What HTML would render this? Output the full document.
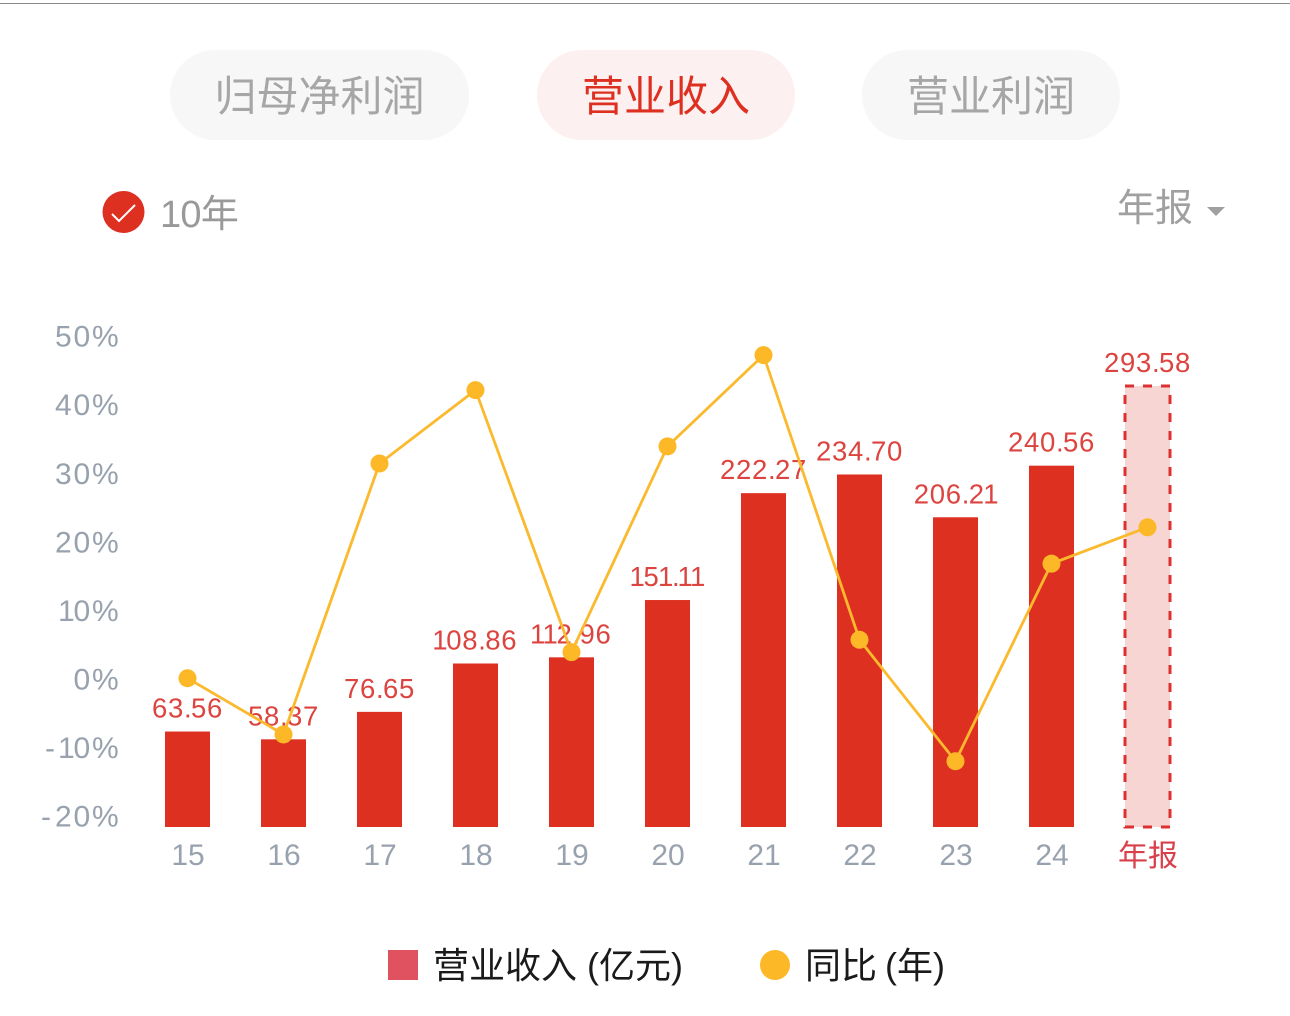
<!DOCTYPE html>
<html lang="zh">
<head>
<meta charset="utf-8">
<title>营业收入</title>
<style>
html,body{margin:0;padding:0;background:#fff;}
#page{position:relative;width:1290px;height:1016px;overflow:hidden;background:#fff;font-family:"Liberation Sans","Noto Sans CJK SC",sans-serif;}
#rule{position:absolute;left:0;top:3px;width:1290px;height:1px;background:#8a8a8a;}
.tab{position:absolute;top:50px;height:90px;border-radius:45px;background:#f7f7f7;color:#a6a6a6;font-size:42px;line-height:93px;text-align:center;font-weight:400;}
.tab.on{background:#fdf0f0;color:#dd3020;}
svg{position:absolute;left:0;top:0;}
text{font-family:"Liberation Sans","Noto Sans CJK SC",sans-serif;}
</style>
</head>
<body>
<div id="page">
<div id="rule"></div>
<div class="tab" style="left:170px;width:299px">归母净利润</div>
<div class="tab on" style="left:537px;width:258px">营业收入</div>
<div class="tab" style="left:862px;width:258px">营业利润</div>

<svg id="chart" width="1290" height="1016" viewBox="0 0 1290 1016">
  <g>
    <ellipse cx="123.500" cy="212" rx="21" ry="21" fill="#dd3020"/>
    <path d="M112 214 L119 221 L135 205" fill="none" stroke="#fff" stroke-width="2"/>
    <text x="160" y="227" font-size="38" fill="#999" letter-spacing="-0.700">10年</text>
  </g>
  <g>
    <text x="1117" y="221" font-size="38" fill="#a0a0a0">年报</text>
    <path d="M1207 207 L1225 207 L1216 216 Z" fill="#a0a0a0"/>
  </g>
  <g id="yAxis"></g>
  <g id="bars"></g>
  <g id="barLabels"></g>
  <g id="line"></g>
  <g id="xAxis"></g>
  <g>
    <rect x="388" y="950" width="30" height="30" fill="#e0525f"/>
    <text x="433" y="978" font-size="36" fill="#1a1a1a">营业收入 (亿元)</text>
    <ellipse cx="775" cy="965" rx="15" ry="15" fill="#fdb827"/>
    <text x="805" y="978" font-size="36" fill="#1a1a1a" word-spacing="-2">同比 (年)</text>
  </g>
</svg>
</div>
<script>
const categories = ['15','16','17','18','19','20','21','22','23','24','年报'];
const revenue = [63.56,58.37,76.65,108.86,112.96,151.11,222.27,234.70,206.21,240.56,293.58];
const revenueLabels = ['63.56','58.37','76.65','108.86','112.96','151.11','222.27','234.70','206.21','240.56','293.58'];
const yoy = [0,-8.2,31.3,42.0,3.8,33.8,47.1,5.6,-12.1,16.7,22.0];
const yTicks = [50,40,30,20,10,0,-10,-20];

const NS = 'http://www.w3.org/2000/svg';
const xScale = i => 187.5 + 96 * i;
const barY = v => 827 - v * 1.502;
const lineY = v => 678.2 - v * 6.86;
const tickY = v => 680 - v * 6.857;

function mk(parent, tag, attrs, txt) {
  const el = document.createElementNS(NS, tag);
  for (const k in attrs) el.setAttribute(k, attrs[k]);
  if (txt !== undefined) el.textContent = txt;
  parent.appendChild(el);
  return el;
}

/* Per-glyph x list: the original font has a narrow "1" and wider digits. */
function glyphX(str, start, cell, nudge) {
  let x = start;
  const out = [];
  for (const ch of str) {
    out.push((x + (nudge[ch] || 0)).toFixed(1));
    x += cell(ch);
  }
  return out.join(' ');
}
const labelCell = ch => ch === '.' ? 7 : ch === '1' ? 12.5 : 16;
const labelWidth = s => [...s].reduce((a, c) => a + labelCell(c), 0);
const tickCell = ch => ch === '%' ? 27 : ch === '-' ? 16 : ch === '1' ? 14.5 : 18.5;
const tickWidth = s => [...s].reduce((a, c) => a + tickCell(c), 0);

const yAxis = document.getElementById('yAxis');
yTicks.forEach(t => {
  const s = t + '%';
  const el = mk(yAxis, 'text', {x:glyphX(s, 119 - tickWidth(s), tickCell, {'1':-1, '-':2}), y:tickY(t)+9.500, 'font-size':30, fill:'#98a2ae'}, s);
  
  
});

const bars = document.getElementById('bars');
const barLabels = document.getElementById('barLabels');
const xAxis = document.getElementById('xAxis');
categories.forEach((c, i) => {
  const last = i === categories.length - 1;
  const cx = xScale(i);
  const top = barY(revenue[i]);
  if (last) {
    const f = mk(bars, 'rect', {x:cx-22.500, y:top, width:45, height:827-top, fill:'#f7d5d3'});
    
    
    const b = mk(bars, 'rect', {x:cx-22.500, y:top, width:45, height:827-top, fill:'none', stroke:'#dd3030', 'stroke-width':3, 'stroke-dasharray':'9 9'});
    
    
  } else {
    const r = mk(bars, 'rect', {x:cx-22.500, y:top, width:45, height:827-top, fill:'#dd3020'});
    
    
  }
  const s = revenueLabels[i];
  const lab = mk(barLabels, 'text', {x:glyphX(s, cx - labelWidth(s) / 2, labelCell, {'1':-1.500}), y:top-14, 'font-size':27.500, fill:'#dc4440'}, s);
  
  
  const xl = mk(xAxis, 'text', {x:cx+0.500, y:last ? 866 : 865, 'font-size':30, fill:last ? '#d8404c' : '#98a2ae', 'text-anchor':'middle'}, c);
  
  
});

const line = document.getElementById('line');
const poly = mk(line, 'polyline', {points:yoy.map((v,i)=>xScale(i)+','+lineY(v)).join(' '), fill:'none', stroke:'#fbb92d', 'stroke-width':2.800});


yoy.forEach((v,i) => {
  const p = mk(line, 'circle', {cx:xScale(i), cy:lineY(v), r:9, fill:'#fdb827'});
  
  
});
</script>
</body>
</html>
